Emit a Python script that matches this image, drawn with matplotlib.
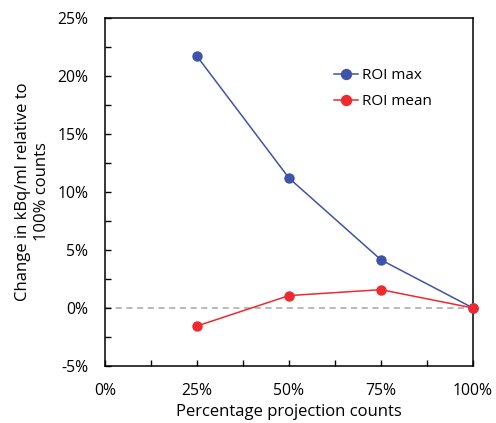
import matplotlib.pyplot as plt
from matplotlib.ticker import MultipleLocator, FuncFormatter

plt.rcParams['font.family'] = ['Open Sans', 'DejaVu Sans']

# Data (percent)
projection_counts = [25, 50, 75, 100]
roi_max = [21.7, 11.2, 4.15, 0.0]
roi_mean = [-1.55, 1.07, 1.58, 0.0]

fig = plt.figure(figsize=(4.96, 4.23), dpi=100)
ax = fig.add_axes([105 / 496, 1 - 366 / 423, 368 / 496, 348 / 423])

ax.axhline(0, color='#A6A6A6', linestyle=(0, (4, 3)), linewidth=1.1, zorder=1)
ax.plot(projection_counts, roi_max, color='#3F54A8', marker='o', markersize=6.5,
        linewidth=1.1, label='ROI max', zorder=3, clip_on=False)
ax.plot(projection_counts, roi_mean, color='#EE2A2E', marker='o', markersize=6.5,
        linewidth=1.1, label='ROI mean', zorder=4, clip_on=False)

ax.set_xlim(0, 100)
ax.set_ylim(-5, 25)
ax.xaxis.set_major_locator(MultipleLocator(25))
ax.xaxis.set_minor_locator(MultipleLocator(12.5))
ax.yaxis.set_major_locator(MultipleLocator(5))
ax.yaxis.set_minor_locator(MultipleLocator(2.5))
pct = FuncFormatter(lambda v, p: f'{v:.0f}%')
ax.xaxis.set_major_formatter(pct)
ax.yaxis.set_major_formatter(pct)

ax.tick_params(which='both', direction='in', length=4.5, width=1, labelsize=11.3)
ax.tick_params(axis='y', which='major', pad=12)
ax.tick_params(axis='x', which='major', pad=12)
for s in ax.spines.values():
    s.set_linewidth(1.1)
    s.set_color('black')

ax.set_xlabel('Percentage projection counts', fontsize=12, labelpad=4)
ax.set_ylabel('Change in kBq/ml relative to\n100% counts', fontsize=12,
              labelpad=5, linespacing=1.3)

ax.legend(loc='upper left', bbox_to_anchor=(0.585, 0.895), frameon=False,
          fontsize=11, handlelength=1.6, handletextpad=0.2, labelspacing=0.7,
          markerscale=1.1)

fig.savefig('out.png', dpi=100)
